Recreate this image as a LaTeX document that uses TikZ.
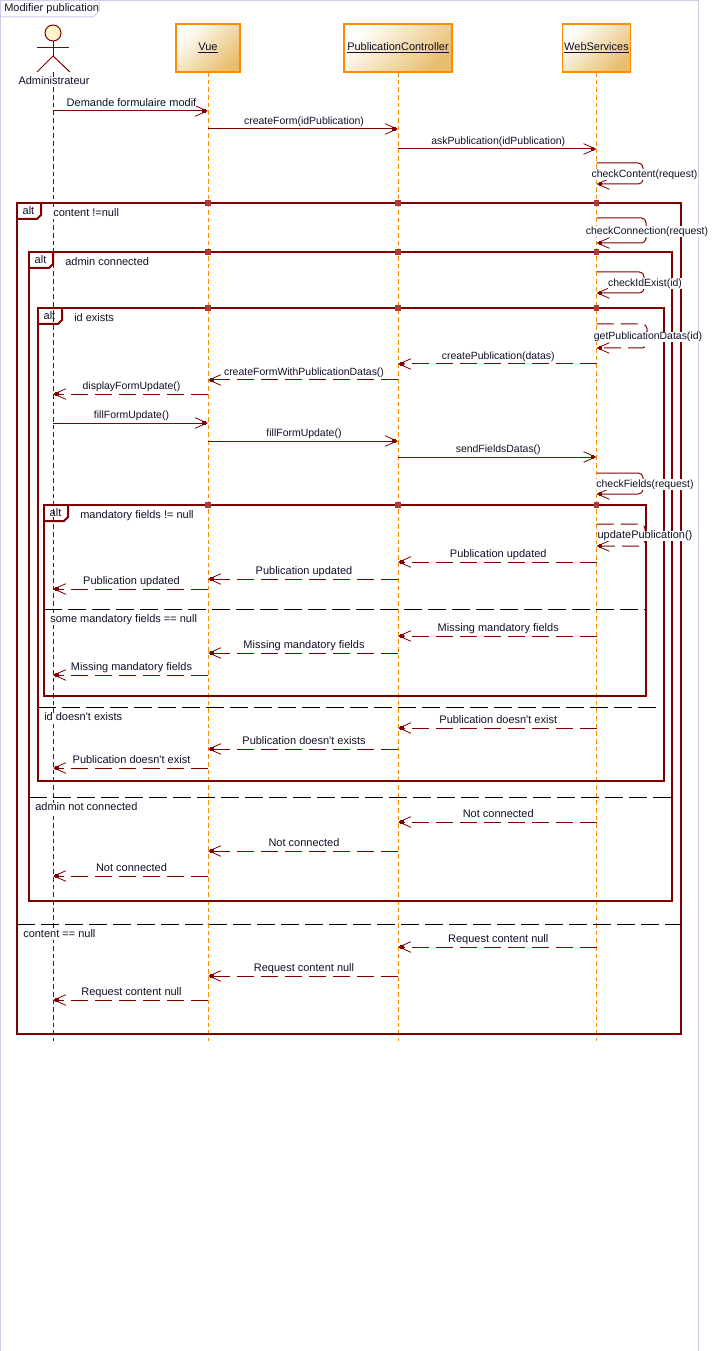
\documentclass[tikz,border=0pt]{standalone}
\usepackage{fontspec}
\usetikzlibrary{arrows.meta,calc,positioning}
\newfontfamily\umlfont{Liberation Sans}
\definecolor{umlred}{HTML}{800000}
\definecolor{umlorange}{HTML}{FF8C00}
\definecolor{umltan}{HTML}{E8BE6E}
\definecolor{umlpage}{HTML}{CDCDEB}
\definecolor{umlmark}{HTML}{A83C3C}
\definecolor{umlhead}{HTML}{FFF5C8}
\definecolor{umltext}{HTML}{101028}
% labels of method calls run a little narrower
\newcommand{\call}[1]{{\fontsize{7.85}{10}\selectfont #1}}
% one message between two lifelines: name, style, from, to, y, label
\newcommand{\msg}[6]{%
    \coordinate (#1a) at (#3 |- 0,#5);
    \coordinate (#1b) at (#4 |- 0,#5);
    \draw[#2] (#1a) -- node[msglabel,xshift=0.75pt,yshift=5.6pt] (#1t) {#6} (#1b);
    \node[tipmark] (#1m) at ($(#1b)!3pt!(#1a)$) {};
}
% one call of a lifeline on itself: name, style, y1, y2, x right, label, x label
\newcommand{\selfmsg}[7]{%
    \coordinate (#1a) at (ws |- 0,#3);
    \coordinate (#1b) at (ws |- 0,#4);
    \coordinate (#1c) at (#5,#3);
    \coordinate (#1d) at (#5,#4);
    \draw[#2,rounded corners=3.5pt] (#1a) -- (#1c) -- (#1d) -- (#1b);
    \node[tipmark] (#1m) at ($(#1b)!3pt!(#1d)$) {};
    \node[msglabel] (#1t) at (#7,{(#3+#4)/2+1}) {#6};
}
% one alt fragment: name, x1, y1, x2, y2, guard, x guard
\newcommand{\altframe}[7]{%
    \coordinate (#1nw) at (#2,#3);
    \coordinate (#1se) at (#4,#5);
    \draw[fragline] (#1nw) rectangle (#1se);
    \draw[tagline] ($(#1nw)+(0,16)$) -- ++(20,0) -- ++(4,-4) -- ++(0,-12);
    \node[taglabel] (#1tag) at ($(#1nw)+(11.5,9)$) {alt};
    \node[guardlabel] (#1g) at (#7,#3+11) {#6};
    \foreach \life in {vue,ctrl,ws}
        \node[fragmark] at (\life |- #1nw) {};
}
% else line of a fragment: x1, x2, y, guard, x guard
\newcommand{\elseline}[5]{%
    \draw[sepline] (#1,#3) -- (#2,#3);
    \node[guardlabel] at (#5,#3+11) {#4};
}
\begin{document}
\begin{tikzpicture}[x=0.75pt,y=-0.75pt,
        every node/.style={font=\umlfont\fontsize{8.25}{10}\selectfont,text=umltext},
        lifebox/.style={draw=umlorange,line width=0.8pt,left color=white,right color=umltan,shading angle=45,
            minimum height=36pt,inner sep=0pt,text height=6pt,text depth=2pt},
        lifeline/.style={umlorange,line width=0.75pt,dash pattern=on 3.5pt off 2.25pt},
        adminline/.style={umlred,line width=0.75pt,dash pattern=on 3.5pt off 2.25pt},
        stick/.style={umlred,line width=0.75pt},
        msgline/.style={umlred,line width=0.75pt,-{Straight Barb[length=9pt,width=8pt,line width=0.6pt]}},
        returnline/.style={msgline,dash pattern=on 12.75pt off 5.25pt},
        msglabel/.style={fill=white,inner sep=0pt,text height=6pt,text depth=2pt},
        guardlabel/.style={msglabel,anchor=west},
        taglabel/.style={inner sep=0pt,text height=6pt,text depth=2pt},
        fragline/.style={umlred,line width=2pt},
        tagline/.style={umlred,line width=1.5pt},
        sepline/.style={black,line width=0.75pt,dash pattern=on 13.5pt off 4.5pt},
        fragmark/.style={fill=umlmark,inner sep=0pt,minimum size=4pt},
        tipmark/.style={fill=umlred,inner sep=0pt,minimum size=2.6pt}
    ]
    \useasboundingbox (0,0) rectangle (712,1351);
    % page
    \draw[umlpage,line width=0.75pt] (0.5,1351) -- (0.5,0.5) -- (698,0.5) -- (698,1351);
    \coordinate (tagtop) at (99,0.5);
    \coordinate (tagleft) at (0.5,17);
    \draw[umlpage,line width=0.75pt] (tagleft) -- (93,17) -- (99,11) -- (tagtop);
    \node[anchor=west,inner sep=0pt,text height=6pt,text depth=2pt] (title) at (4,9) {Modifier publication};

    % heads
    \node[draw=umlred,line width=0.75pt,circle,fill=umlhead,
        minimum size=12pt,inner sep=0pt] (admin) at (53,33) {};
    \coordinate (adminhip) at (53,56);
    \coordinate (adminleft) at (37,48);
    \coordinate (adminright) at (69,48);
    \coordinate (adminfootl) at (37,72);
    \coordinate (adminfootr) at (70,72);
    \coordinate (admintop) at (53,72);
    \coordinate (adminend) at (53,1041);
    \node[lifebox,minimum width=48pt] (vue) at (208,48) {\underline{Vue}};
    \node[lifebox,minimum width=81pt] (ctrl) at (398,48) {\underline{PublicationController}};
    \node[lifebox,minimum width=51pt] (ws) at (596.5,48) {\underline{WebServices}};
    \coordinate (vueend) at (208,1041);
    \coordinate (ctrlend) at (398,1041);
    \coordinate (wsend) at (596.5,1041);
    \draw[stick] (admin) -- (adminhip);
    \draw[stick] (adminleft) -- (adminright);
    \draw[stick] (adminfootl) -- (adminhip) -- (adminfootr);

    % lifelines
    \draw[adminline] (admintop) -- (adminend);
    \draw[lifeline] (vue) ++(0,24) -- (vueend);
    \draw[lifeline] (ctrl) ++(0,24) -- (ctrlend);
    \draw[lifeline] (ws) ++(0,24) -- (wsend);
    \node[msglabel] (adminlabel) at (54,82) {Administrateur};

    % fragments
    \altframe{content}{17}{203}{681}{1034}{content !=null}{53}
    \altframe{connected}{29}{252}{672}{901}{admin connected}{65}
    \altframe{exists}{38}{308}{664}{781}{id exists}{74}
    \altframe{mandatory}{44}{505}{646}{696}{mandatory fields != null}{80}
    \elseline{44}{646}{609}{some mandatory fields == null}{50}
    \elseline{38}{656}{707}{id doesn't exists}{44}
    \elseline{29}{672}{797}{admin not connected}{35}
    \elseline{17}{681}{924}{content == null}{23}

    % messages
    \msg{ma}{msgline}{admin}{vue}{111}{Demande formulaire modif}
    \msg{mb}{msgline}{vue}{ctrl}{129}{\call{createForm(idPublication)}}
    \msg{mc}{msgline}{ctrl}{ws}{149}{\call{askPublication(idPublication)}}
    \selfmsg{sa}{msgline}{163}{184}{643}{\call{checkContent(request)}}{644.5}
    \selfmsg{sb}{msgline}{218}{243}{646}{\call{checkConnection(request)}}{647}
    \selfmsg{sc}{msgline}{272}{293}{644}{\call{checkIdExist(id)}}{645}
    \selfmsg{sd}{returnline}{324}{348}{647}{\call{getPublicationDatas(id)}}{648}
    \msg{md}{returnline}{ws}{ctrl}{364}{\call{createPublication(datas)}}
    \msg{me}{returnline}{ctrl}{vue}{380}{\call{createFormWithPublicationDatas()}}
    \msg{mf}{returnline}{vue}{admin}{394}{\call{displayFormUpdate()}}
    \msg{mg}{msgline}{admin}{vue}{423}{\call{fillFormUpdate()}}
    \msg{mh}{msgline}{vue}{ctrl}{441}{\call{fillFormUpdate()}}
    \msg{mi}{msgline}{ctrl}{ws}{457}{\call{sendFieldsDatas()}}
    \selfmsg{se}{msgline}{473}{494}{643}{\call{checkFields(request)}}{645}
    \selfmsg{sf}{returnline}{524}{546}{645}{updatePublication()}{645}
    \msg{mj}{returnline}{ws}{ctrl}{562}{Publication updated}
    \msg{mk}{returnline}{ctrl}{vue}{579}{Publication updated}
    \msg{ml}{returnline}{vue}{admin}{589}{Publication updated}
    \msg{mm}{returnline}{ws}{ctrl}{636}{Missing mandatory fields}
    \msg{mn}{returnline}{ctrl}{vue}{653}{Missing mandatory fields}
    \msg{mo}{returnline}{vue}{admin}{675}{Missing mandatory fields}
    \msg{mp}{returnline}{ws}{ctrl}{728}{Publication doesn't exist}
    \msg{mq}{returnline}{ctrl}{vue}{749}{Publication doesn't exists}
    \msg{mr}{returnline}{vue}{admin}{768}{Publication doesn't exist}
    \msg{ms}{returnline}{ws}{ctrl}{822}{Not connected}
    \msg{mt}{returnline}{ctrl}{vue}{851}{Not connected}
    \msg{mu}{returnline}{vue}{admin}{876}{Not connected}
    \msg{mv}{returnline}{ws}{ctrl}{947}{Request content null}
    \msg{mw}{returnline}{ctrl}{vue}{976}{Request content null}
    \msg{mx}{returnline}{vue}{admin}{1000}{Request content null}
\end{tikzpicture}
\end{document}
